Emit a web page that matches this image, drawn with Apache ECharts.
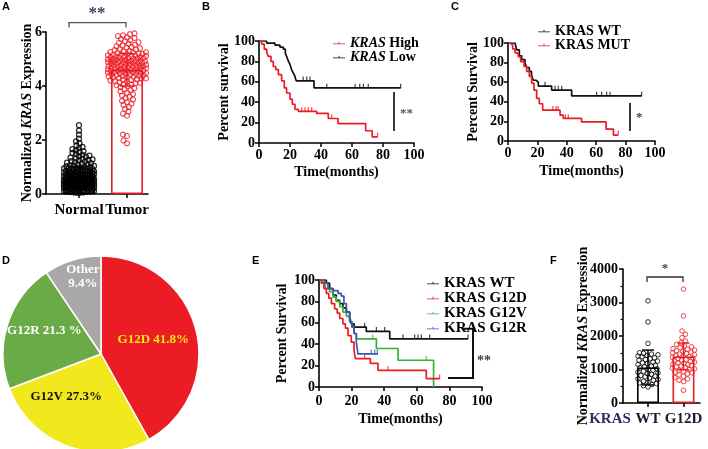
<!DOCTYPE html>
<html>
<head>
<meta charset="utf-8">
<script src="https://cdn.jsdelivr.net/npm/echarts@6/dist/echarts.min.js"></script>
<style>
  html, body { margin: 0; padding: 0; background: #fff; }
  #main { width: 708px; height: 449px; }
</style>
</head>
<body>
<div id="main"></div>
<script>
// ---------- data ----------
// A: KRAS expression, normal vs tumor
var catsA = ['Normal', 'Tumor'];
var meanA = [0.6, 4.6];
var sdA = [0.4, 0.6];
var normalVals = [2.55,2.35,2.2,2.05,1.95,1.88,1.8,1.74,1.7,1.66,1.62,1.58,1.55,1.52,1.48,1.45,1.42,1.4,1.37,1.35,
  1.32,1.3,1.28,1.26,1.24,1.22,1.2,1.18,1.16,1.14,1.12,1.1,1.09,1.07,1.05,1.04,1.02,1.0,0.99,0.97,
  0.96,0.95,0.93,0.92,0.91,0.9,0.88,0.87,0.86,0.85,0.84,0.83,0.82,0.81,0.8,0.79,0.78,0.77,0.76,0.75,
  0.74,0.73,0.72,0.71,0.7,0.69,0.68,0.67,0.66,0.65,0.64,0.63,0.62,0.61,0.6,0.6,0.59,0.58,0.57,0.56,
  0.55,0.55,0.54,0.53,0.52,0.51,0.5,0.5,0.49,0.48,0.47,0.46,0.45,0.45,0.44,0.43,0.42,0.41,0.4,0.4,
  0.39,0.38,0.37,0.36,0.35,0.35,0.34,0.33,0.32,0.31,0.3,0.29,0.28,0.27,0.26,0.25,0.24,0.23,0.22,0.21,
  0.2,0.19,0.18,0.17,0.16,0.15,0.14,0.13,0.12,0.11,0.1,0.09,0.08,0.07,0.06,0.05,0.04,
  0.985,0.945,0.905,0.875,0.835,0.805,0.775,0.745,0.715,0.685,0.655,0.625,0.595,0.565,0.535,0.505,
  0.475,0.445,0.415,0.385,0.355,0.325,0.295,0.265,0.235,0.205,0.175,0.145,0.115,0.085,
  0.62,0.58,0.52,0.48,0.44,0.38,0.34,0.3,0.26,0.22,0.7,0.66,0.56,0.46,0.36,0.28,0.24];
var tumorVals = [5.95,5.92,5.88,5.85,5.8,5.78,5.74,5.7,5.66,5.62,5.6,5.56,5.53,5.5,5.47,5.44,5.42,5.4,5.37,5.35,
  5.33,5.3,5.28,5.26,5.24,5.22,5.2,5.18,5.16,5.14,5.12,5.1,5.09,5.08,5.06,5.05,5.04,5.02,5.0,4.99,
  4.97,4.96,4.95,4.93,4.92,4.9,4.89,4.88,4.86,4.85,4.84,4.82,4.8,4.79,4.78,4.76,4.75,4.74,4.72,4.7,
  4.69,4.68,4.66,4.65,4.64,4.62,4.6,4.59,4.58,4.56,4.55,4.53,4.52,4.5,4.48,4.47,4.45,4.43,4.42,4.4,
  4.38,4.36,4.35,4.32,4.3,4.28,4.25,4.22,4.2,4.17,4.14,4.1,4.07,4.03,4.0,3.96,3.92,3.88,3.84,3.8,
  3.75,3.7,3.65,3.6,3.55,3.5,3.45,3.4,3.35,3.3,3.22,3.15,3.05,2.98,2.9,2.2,2.15,1.98,1.88,
  5.15,5.11,5.07,5.03,4.98,4.94,4.91,4.87,4.83,4.81,4.77,4.73,4.71,4.67,4.63,4.61,4.57,4.54,4.51,
  4.46,4.44,4.41,4.37,4.33,4.27,4.23,4.18,4.12,4.05,5.25,5.19,5.01,4.91];

// B: survival by KRAS expression  [months, percent]
var bHigh = [[0,100],[1.7,97],[3.4,92],[5,88.5],[6,85],[7.7,80],[9.2,75],[10.8,72],[12.5,67],[14.6,61],[16.3,54],
  [17.8,49],[20,43],[21.5,38],[23.2,33],[25.4,31],[37.2,29],[44.7,24],[51,19],[68.8,12],[73,6],[76.5,6]];
var bLow = [[0,100],[4.9,98],[10.3,96],[13.5,94],[15.7,92],[17,88],[17.8,85],[19,80],[20,77],[21,72],[22,69],
  [23,66],[24,61],[35.5,54],[91.4,54]];
var bHighCens = [27.5,29.7,31.8,34,46.9,76.5];
var bLowCens = [28.5,30.8,32.9,43.7,62,65,67.3,70.5,91.4];

// C: survival WT vs MUT
var cWT = [[0,100],[4.8,98],[5.9,93],[7.7,87],[9.3,83],[11.6,79],[12.7,75],[14.5,71],[16,67],[17.2,62],[19,60],
  [20.6,56],[29.7,52],[43.3,46],[90.9,46]];
var cMUT = [[0,100],[1.4,98],[3.2,94],[4.8,90],[7,86],[8.6,81],[10.9,76],[12.7,71],[14.5,66],[16.1,59],[17.7,52],
  [19.5,43.5],[21.3,38],[23.6,31.5],[35.4,26.5],[37.6,23],[50,19.5],[66.7,12.2],[71.7,6],[75,6]];
var cWTCens = [25.2,32,34.2,36.5,60.3,63.7,67.1,69.4,90.9];
var cMUTCens = [30.5,32.7,34,39,41,75];

// D: mutation subtypes (%)
var pieNames = ['G12D', 'G12V', 'G12R', 'Other'];
var pieVals = [41.8, 27.3, 21.3, 9.4];

// E: survival by subtype
var eWT = [[0,100],[4.5,97],[6.5,92],[8.6,86],[10.6,81],[12.7,78],[14.7,74],[16.8,70],[18.8,66],[19.8,59],
  [21.5,56],[29,52],[43.4,45],[91.4,45]];
var eG12D = [[0,100],[1.4,97],[3,92],[4.5,87.5],[6,83],[7.6,78],[9.6,73],[11.2,69],[12.7,64],[14.7,59],[16.2,55],
  [17.8,48],[19.8,42],[21.5,34],[22.3,26.5],[31.5,22],[36.2,15.6],[65.8,7.8],[74,7.8]];
var eG12V = [[0,100],[2.5,97],[3.9,92],[6.5,89],[8.6,84],[10.6,80],[12.7,75],[14.7,70],[16.8,66],[18.8,61],
  [20.2,56],[21.5,50],[22.9,45],[35.2,36],[48.5,25],[70.3,0]];
var eG12R = [[0,100],[3.5,97],[5.5,92],[8.6,90],[11.7,87.5],[13.7,85],[15.3,78],[16.8,70],[18.8,61],[20.2,56],
  [21.5,50],[22.9,42],[23.9,31],[36.2,31]];
var eWTCens = [28,35.2,40.3,51.5,58.7,60.7,62.8,67.9,91.4];
var eG12DCens = [28,42.3,74];
var eG12VCens = [33,65.8];
var eG12RCens = [32.1,34.2,35.8];

// F: expression WT vs G12D
var catsF = ['WT', 'G12D'];
var meanF = [1060, 1390];
var sdF = [520, 400];
var wtVals = [3050,2420,1780,1500,1480,1460,1440,1420,1400,1380,1350,1320,1300,1280,1250,1220,1200,1180,1150,
  1120,1100,1080,1050,1020,1000,980,950,920,900,880,850,820,800,780,750,720,700,680,650,620,600,580,550,520,480];
var g12dVals = [3400,2600,2150,2050,1950,1850,1800,1750,1700,1680,1650,1620,1600,1580,1560,1540,1520,1500,1480,
  1460,1440,1420,1400,1380,1360,1340,1320,1300,1280,1260,1240,1220,1200,1180,1160,1140,1120,1100,1080,1060,
  1040,1020,1000,980,950,920,900,870,840,800,760,720,680,640,380];

// ---------- helpers ----------
var SERIF = '"Liberation Serif", "Times New Roman", serif';
var SANS = '"Liberation Sans", Arial, sans-serif';
var RED = '#ec1c24', BLK = '#111111', GRN = '#36b336', BLU = '#3a55b8';

// simple beeswarm: returns horizontal pixel offsets for each value
function swarm(vals, pxPerVal, r, maxHalf) {
  var placed = [], out = new Array(vals.length), d = 2 * r;
  var order = vals.map(function (v, i) { return i; }).sort(function (a, b) { return vals[a] - vals[b]; });
  order.forEach(function (i) {
    var y = vals[i] * pxPerVal, best = 0, bestScore = -1;
    var steps = Math.floor(maxHalf / 0.5);
    for (var k = 0; k <= 2 * steps; k++) {
      var off = (k % 2 ? -1 : 1) * Math.ceil(k / 2) * 0.5;
      var minD = Infinity;
      for (var j = placed.length - 1; j >= 0; j--) {
        var dy = y - placed[j].y;
        if (dy >= d) break;
        var dist = Math.sqrt((placed[j].x - off) * (placed[j].x - off) + dy * dy);
        if (dist < minD) minD = dist;
      }
      if (minD >= d) { best = off; break; }
      if (minD > bestScore) { bestScore = minD; best = off; }
    }
    placed.push({ x: best, y: y });
    out[i] = best;
  });
  return out;
}

function survAt(curve, t) {
  var s = curve[0][1];
  for (var i = 0; i < curve.length; i++) { if (curve[i][0] <= t) s = curve[i][1]; else break; }
  return s;
}

function kmLine(name, data, color, ax) {
  return { name: name, type: 'line', step: 'end', data: data, xAxisIndex: ax, yAxisIndex: ax,
    showSymbol: false, symbol: 'none', lineStyle: { color: color, width: 1.7 }, itemStyle: { color: color } };
}
function censor(curve, times, color, ax) {
  return { type: 'scatter', xAxisIndex: ax, yAxisIndex: ax, symbol: 'rect', symbolSize: [1.2, 4.5],
    symbolOffset: [0, -2], itemStyle: { color: color },
    data: times.map(function (t) { return [t, survAt(curve, t)]; }) };
}

function errBars(means, sds, colors, ax, cap) {
  return { type: 'custom', xAxisIndex: ax, yAxisIndex: ax, z: 5,
    data: means.map(function (m, i) { return [i + 1, m, sds[i]]; }),
    renderItem: function (params, api) {
      var x = api.value(0), m = api.value(1), s = api.value(2);
      var top = api.coord([x, m + s]), bot = api.coord([x, m - s]);
      var st = { stroke: colors[params.dataIndex], lineWidth: 1.5 };
      return { type: 'group', children: [
        { type: 'line', shape: { x1: top[0], y1: top[1], x2: bot[0], y2: bot[1] }, style: st },
        { type: 'line', shape: { x1: top[0] - cap, y1: top[1], x2: top[0] + cap, y2: top[1] }, style: st },
        { type: 'line', shape: { x1: bot[0] - cap, y1: bot[1], x2: bot[0] + cap, y2: bot[1] }, style: st }
      ] };
    } };
}

function swarmSeries(vals, idx, pxPerX, pxPerVal, r, maxHalf, color, ax, size, bw) {
  var offs = swarm(vals, pxPerVal, r, maxHalf);
  return { type: 'scatter', xAxisIndex: ax, yAxisIndex: ax, symbol: 'circle', symbolSize: size, z: 4,
    itemStyle: { color: 'rgba(0,0,0,0)', borderColor: color, borderWidth: bw || 1 },
    data: vals.map(function (v, i) { return [idx + offs[i] / pxPerX, v]; }) };
}

var lineAx = { show: true, onZero: false, lineStyle: { color: '#000', width: 1.6 } };
var tickAx = { show: true, length: 4, lineStyle: { color: '#000', width: 1.5 } };
function lbl(size, margin) {
  return { color: '#000', fontFamily: SERIF, fontWeight: 'bold', fontSize: size, margin: margin };
}
var nameStyle = { color: '#000', fontFamily: SERIF, fontWeight: 'bold', fontSize: 14,
  rich: { i: { fontStyle: 'italic', fontWeight: 'bold', fontFamily: SERIF, fontSize: 14, color: '#000' } } };

function kmX(grid, gap, margin) {
  return { type: 'value', gridIndex: grid, min: 0, max: 100, interval: 20, name: 'Time(months)',
    nameLocation: 'middle', nameGap: gap, nameMoveOverlap: false, nameTextStyle: nameStyle, axisLine: lineAx, axisTick: tickAx,
    axisLabel: lbl(14, margin), splitLine: { show: false } };
}
function kmY(grid, name, gap) {
  return { type: 'value', gridIndex: grid, min: 0, max: 100, interval: 20, name: name,
    nameLocation: 'middle', nameRotate: 90, nameGap: gap, nameMoveOverlap: false, nameTextStyle: nameStyle, axisLine: lineAx,
    axisTick: tickAx, axisLabel: lbl(14, 4), splitLine: { show: false } };
}

var legIcon = 'path://M0,5h24v1.6h-24z M11.2,1.5h1.6v4.5h-1.6z';
function legendRich() {
  return { i: { fontStyle: 'italic', fontWeight: 'bold', fontFamily: SERIF, fontSize: 14, color: '#000' } };
}

// ---------- chart ----------
var myChart = echarts.init(document.getElementById('main'));

var pxA = 48, pyA = 162 / 6;
var pxF = 35.5, pyF = 134 / 4000;

var pieLabelColors = ['#f7e514', '#111', '#fff', '#fff'];
var pieColors = [RED, '#f1e91e', '#6aab47', '#a9a7a7'];
var pieOffsets = [[2, -1], [-17, -6], [-7, -8], [-3, -28]];
var pieSep = [' ', ' ', ' ', '\n'];
var pieUnit = ['%', '%', ' %', '%'];

var option = {
  backgroundColor: '#fff',
  animation: false,
  grid: [
    { left: 46, top: 32, width: 102, height: 162 },
    { left: 259, top: 41, width: 155, height: 102 },
    { left: 508, top: 43, width: 147, height: 98 },
    { left: 319, top: 280, width: 163, height: 107 },
    { left: 623, top: 269, width: 77, height: 134 }
  ],
  xAxis: [
    { type: 'value', gridIndex: 0, min: 0.3125, max: 2.4375, axisLine: lineAx,
      axisTick: { show: true, length: 4, customValues: [1, 2], lineStyle: { color: '#000', width: 1.5 } },
      axisLabel: Object.assign(lbl(15, 9), { customValues: [1, 2], formatter: function (v) { return catsA[Math.round(v) - 1]; } }),
      splitLine: { show: false } },
    kmX(1, 22, 5),
    kmX(2, 23, 5),
    kmX(3, 25, 7),
    { type: 'value', gridIndex: 4, min: 0.296, max: 2.465, axisLine: lineAx,
      axisTick: { show: true, length: 4, customValues: [1, 2], lineStyle: { color: '#000', width: 1.5 } },
      axisLabel: Object.assign(lbl(15, 9), { color: '#1c1c2e', customValues: [1, 2], formatter: function (v) { return catsF[Math.round(v) - 1]; } }),
      splitLine: { show: false } }
  ],
  yAxis: [
    { type: 'value', gridIndex: 0, min: 0, max: 6, interval: 2, name: 'Normalized {i|KRAS} Expression',
      nameLocation: 'middle', nameRotate: 90, nameGap: 12, nameMoveOverlap: false, nameTextStyle: nameStyle,
      axisLine: lineAx, axisTick: tickAx, axisLabel: lbl(14, 4), splitLine: { show: false } },
    kmY(1, 'Percent survival', 28),
    kmY(2, 'Percent Survival', 28),
    kmY(3, 'Percent Survival', 30),
    { type: 'value', gridIndex: 4, min: 0, max: 4000, interval: 1000, name: 'Normalized {i|KRAS} Expression',
      nameLocation: 'middle', nameRotate: 90, nameGap: 33, nameMoveOverlap: false, nameTextStyle: nameStyle,
      axisLine: lineAx, axisTick: tickAx, minorTick: { show: true, splitNumber: 2, length: 2.5, lineStyle: { color: '#000', width: 1.2 } },
      axisLabel: Object.assign(lbl(14, 5), { formatter: function (v) { return String(v); } }), splitLine: { show: false } }
  ],
  legend: [
    { left: 333, top: 36, padding: 0, orient: 'vertical', itemWidth: 12, itemHeight: 6, itemGap: 0, icon: legIcon,
      selectedMode: false, data: ['KRAS High', 'KRAS Low'],
      formatter: function (n) { return n.replace('KRAS', '{i|KRAS}'); },
      textStyle: { fontFamily: SERIF, fontWeight: 'bold', fontSize: 14, color: '#000', lineHeight: 12, rich: legendRich() } },
    { left: 538, top: 24, padding: 0, orient: 'vertical', itemWidth: 12, itemHeight: 6, itemGap: 0, icon: legIcon,
      selectedMode: false, data: ['KRAS WT', 'KRAS MUT'],
      textStyle: { fontFamily: SERIF, fontWeight: 'bold', fontSize: 14, color: '#000', lineHeight: 14 } },
    { left: 427, top: 275.5, padding: 0, orient: 'vertical', itemWidth: 12, itemHeight: 6, itemGap: 0, icon: legIcon,
      selectedMode: false, data: ['KRAS WT', 'KRAS G12D', 'KRAS G12V', 'KRAS G12R'],
      textStyle: { fontFamily: SERIF, fontWeight: 'bold', fontSize: 15, color: '#000', lineHeight: 12.7 } }
  ],
  series: [
    // A
    { type: 'bar', xAxisIndex: 0, yAxisIndex: 0, barWidth: 32, z: 2,
      data: meanA.map(function (m, i) {
        return { value: [i + 1, m], itemStyle: { color: 'rgba(0,0,0,0)', borderColor: i ? RED : '#000', borderWidth: 1.6 } };
      }) },
    swarmSeries(normalVals, 1, pxA, pyA, 1.8, 15, '#000', 0, 5, 1.3),
    swarmSeries(tumorVals, 2, pxA, pyA, 2.1, 19, RED, 0, 5, 1.1),
    errBars(meanA, sdA, ['#000', RED], 0, 7),
    // B
    kmLine('KRAS Low', bLow, BLK, 1),
    kmLine('KRAS High', bHigh, RED, 1),
    censor(bLow, bLowCens, BLK, 1),
    censor(bHigh, bHighCens, RED, 1),
    // C
    kmLine('KRAS WT', cWT, BLK, 2),
    kmLine('KRAS MUT', cMUT, RED, 2),
    censor(cWT, cWTCens, BLK, 2),
    censor(cMUT, cMUTCens, RED, 2),
    // D
    { type: 'pie', center: [101, 354], radius: 98, startAngle: 90, clockwise: true, avoidLabelOverlap: false,
      itemStyle: { borderColor: '#fff', borderWidth: 1.5 },
      label: { show: true, position: 'inside', rotate: 0, fontFamily: SERIF, fontWeight: 'bold', fontSize: 13, lineHeight: 14 },
      labelLine: { show: false },
      data: pieVals.map(function (v, i) {
        return { name: pieNames[i], value: v, itemStyle: { color: pieColors[i] },
          label: { color: pieLabelColors[i], offset: pieOffsets[i],
            formatter: pieNames[i] + pieSep[i] + v + pieUnit[i] } };
      }) },
    // E
    kmLine('KRAS WT', eWT, BLK, 3),
    kmLine('KRAS G12V', eG12V, GRN, 3),
    kmLine('KRAS G12R', eG12R, BLU, 3),
    kmLine('KRAS G12D', eG12D, RED, 3),
    censor(eWT, eWTCens, BLK, 3),
    censor(eG12D, eG12DCens, RED, 3),
    censor(eG12V, eG12VCens, GRN, 3),
    censor(eG12R, eG12RCens, BLU, 3),
    // F
    { type: 'bar', xAxisIndex: 4, yAxisIndex: 4, barWidth: 22, z: 2,
      data: meanF.map(function (m, i) {
        return { value: [i + 1, m], itemStyle: { color: 'rgba(0,0,0,0)', borderColor: i ? RED : '#000', borderWidth: 1.6 } };
      }) },
    swarmSeries(wtVals, 1, pxF, pyF, 2.3, 10, '#000', 4, 4.6),
    swarmSeries(g12dVals, 2, pxF, pyF, 2.3, 11, RED, 4, 4.6),
    errBars(meanF, sdF, ['#000', RED], 4, 6)
  ],
  graphic: [
    // panel letters
    { type: 'text', left: 2, top: 1, style: { text: 'A', font: 'bold 11px ' + SANS, fill: '#000' } },
    { type: 'text', left: 202, top: 1, style: { text: 'B', font: 'bold 11px ' + SANS, fill: '#000' } },
    { type: 'text', left: 451, top: 1, style: { text: 'C', font: 'bold 11px ' + SANS, fill: '#000' } },
    { type: 'text', left: 2, top: 255, style: { text: 'D', font: 'bold 11px ' + SANS, fill: '#000' } },
    { type: 'text', left: 252, top: 255, style: { text: 'E', font: 'bold 11px ' + SANS, fill: '#000' } },
    { type: 'text', left: 550, top: 255, style: { text: 'F', font: 'bold 11px ' + SANS, fill: '#000' } },
    // significance marks
    { type: 'polyline', shape: { points: [[69, 27.5], [69, 22.7], [126, 22.7], [126, 27.5]] }, style: { stroke: '#555', lineWidth: 1.3, fill: null } },
    { type: 'text', x: 97, y: 14, style: { text: '**', font: 'bold 17px ' + SERIF, fill: '#3d3f5e', textAlign: 'center', textVerticalAlign: 'middle' } },
    { type: 'line', shape: { x1: 394, y1: 92, x2: 394, y2: 131 }, style: { stroke: '#222', lineWidth: 1.8 } },
    { type: 'text', x: 400, y: 114, style: { text: '**', font: 'bold 13px ' + SERIF, fill: '#555', textVerticalAlign: 'middle' } },
    { type: 'line', shape: { x1: 630, y1: 103, x2: 630, y2: 131 }, style: { stroke: '#222', lineWidth: 1.8 } },
    { type: 'text', x: 636, y: 118, style: { text: '*', font: 'bold 13px ' + SERIF, fill: '#444', textVerticalAlign: 'middle' } },
    { type: 'polyline', shape: { points: [[463, 328.7], [473, 328.7], [473, 378], [448, 378]] }, style: { stroke: '#111', lineWidth: 2, fill: null } },
    { type: 'text', x: 477, y: 361, style: { text: '**', font: 'bold 14px ' + SERIF, fill: '#444', textVerticalAlign: 'middle' } },
    { type: 'polyline', shape: { points: [[647, 282], [647, 277], [683, 277], [683, 282]] }, style: { stroke: '#333', lineWidth: 1.3, fill: null } },
    { type: 'text', x: 665, y: 269, style: { text: '*', font: 'bold 13px ' + SERIF, fill: '#444', textAlign: 'center', textVerticalAlign: 'middle' } },
    { type: 'text', x: 610, y: 419, style: { text: 'KRAS', font: 'bold 15px ' + SERIF, fill: '#2b2e63', textAlign: 'center', textVerticalAlign: 'middle' } }
  ]
};

myChart.setOption(option);
</script>
</body>
</html>
